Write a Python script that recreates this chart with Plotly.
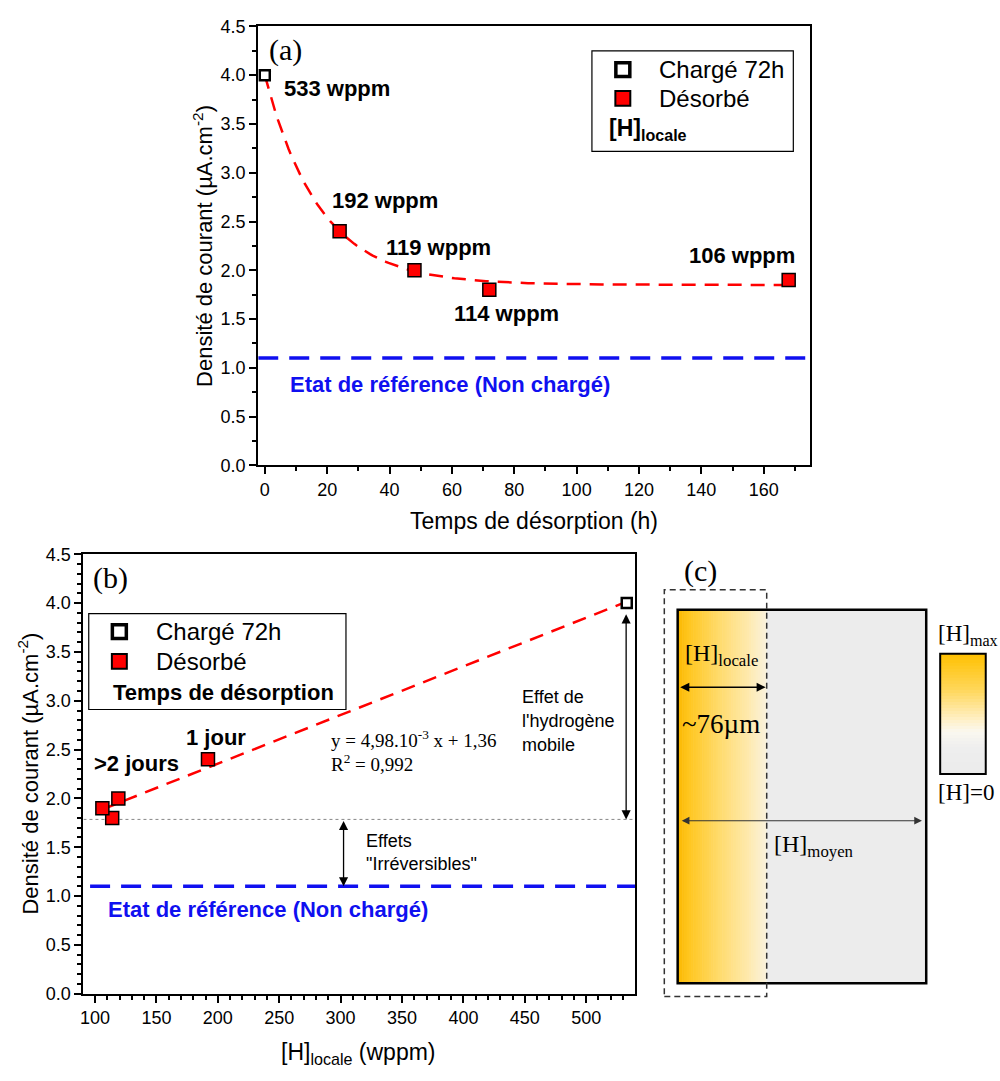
import numpy as np
import plotly.graph_objects as go

# ---------------- data ----------------
# Panel (a): current density vs desorption time
time_charged = [0]
dens_charged = [4.0]
time_desorbed = [24, 48, 72, 168]
dens_desorbed = [2.4, 2.0, 1.8, 1.9]
h_labels_a = ["533 wppm", "192 wppm", "119 wppm", "114 wppm", "106 wppm"]
# exponential fit parameters
fit_a_y0 = 1.85
fit_a_amp = 2.15
fit_a_tau = 17.6
fit_a_xmax = 168

# Panel (b): current density vs local hydrogen
h_charged = [533]
hdens_charged = [4.0]
h_desorbed = [192, 119, 114, 106]
hdens_desorbed = [2.4, 2.0, 1.8, 1.9]
fit_b_slope = 4.98e-3
fit_b_intercept = 1.36
fit_b_xrange = [106, 533]

ref_level = 1.1          # Etat de référence (non chargé)
irrev_level = 1.785      # dotted level

W, H = 1000, 1081
def PX(x): return x / W
def PY(y): return 1 - y / H

FONT = "Arial, Liberation Sans, sans-serif"
SERIF = "Liberation Serif, DejaVu Serif, serif"
RED = "#FF0000"
BLUE = "#1010F0"

fig = go.Figure()

# ---- panel (a) traces ----
xf = np.linspace(0, fit_a_xmax, 200)
yf = fit_a_y0 + fit_a_amp * np.exp(-xf / fit_a_tau)
fig.add_trace(go.Scatter(x=xf, y=yf, mode="lines", xaxis="x", yaxis="y",
                         line=dict(color=RED, width=2.5, dash="14px,9px"), showlegend=False))
fig.add_trace(go.Scatter(x=[-2.1, 174.7], y=[ref_level, ref_level], mode="lines", xaxis="x", yaxis="y",
                         line=dict(color=BLUE, width=3.5, dash="20px,11px"), showlegend=False))
fig.add_trace(go.Scatter(x=time_desorbed, y=dens_desorbed, mode="markers", xaxis="x", yaxis="y",
                         marker=dict(symbol="square", size=13, color=RED, line=dict(color="black", width=1.5)),
                         showlegend=False))
fig.add_trace(go.Scatter(x=time_charged, y=dens_charged, mode="markers", xaxis="x", yaxis="y",
                         marker=dict(symbol="square", size=10, color="white", line=dict(color="black", width=2.5)),
                         showlegend=False))

# ---- panel (b) traces ----
xb = np.array(fit_b_xrange, dtype=float)
fig.add_trace(go.Scatter(x=[90.6, 539.8], y=[irrev_level, irrev_level], mode="lines", xaxis="x2", yaxis="y2",
                         line=dict(color="#888888", width=1, dash="dot"), showlegend=False))
fig.add_trace(go.Scatter(x=xb, y=fit_b_slope * xb + fit_b_intercept, mode="lines", xaxis="x2", yaxis="y2",
                         line=dict(color=RED, width=2.5, dash="14px,9px"), showlegend=False))
fig.add_trace(go.Scatter(x=[96, 539.8], y=[ref_level, ref_level], mode="lines", xaxis="x2", yaxis="y2",
                         line=dict(color=BLUE, width=3.5, dash="20px,11px"), showlegend=False))
fig.add_trace(go.Scatter(x=h_desorbed, y=hdens_desorbed, mode="markers", xaxis="x2", yaxis="y2",
                         marker=dict(symbol="square", size=13, color=RED, line=dict(color="black", width=1.5)),
                         showlegend=False))
fig.add_trace(go.Scatter(x=h_charged, y=hdens_charged, mode="markers", xaxis="x2", yaxis="y2",
                         marker=dict(symbol="square", size=10, color="white", line=dict(color="black", width=2.5)),
                         showlegend=False))

axis_common = dict(showline=True, linewidth=2, linecolor="black", mirror=True, ticks="outside",
                   ticklen=7, tickwidth=1.5, tickcolor="black", showgrid=False, zeroline=False,
                   tickfont=dict(family=FONT, size=18, color="black"))

fig.update_layout(
    width=W, height=H, margin=dict(l=0, r=0, t=0, b=0),
    plot_bgcolor="white", paper_bgcolor="white", showlegend=False,
    xaxis=dict(domain=[PX(256), PX(809)], range=[-2.1, 174.7], anchor="y", dtick=20, tick0=0,
               minor=dict(ticks="outside", ticklen=4, dtick=10, tickcolor="black", tickwidth=1.5), **axis_common),
    yaxis=dict(domain=[PY(464), PY(16.7)], range=[0, 4.5], anchor="x", dtick=0.5, tickformat=".1f",
               minor=dict(ticks="outside", ticklen=4, dtick=0.25, tickcolor="black", tickwidth=1.5), **axis_common),
    xaxis2=dict(domain=[PX(80.7), PX(634)], range=[90.6, 539.8], anchor="y2", dtick=50, tick0=100,
                minor=dict(ticks="outside", ticklen=4, dtick=10, tickcolor="black", tickwidth=1.5), **axis_common),
    yaxis2=dict(domain=[PY(1002.3), PY(554.5)], range=[0, 4.5], anchor="x2", dtick=0.5, tickformat=".1f",
                minor=dict(ticks="outside", ticklen=4, dtick=0.1, tickcolor="black", tickwidth=1.5), **axis_common),
)

ann = []
def txt(text, x, y, size=22, family=FONT, color="black", xanchor="left", yanchor="middle",
        xref="paper", yref="paper", angle=0, bold=False):
    if bold:
        text = "<b>" + text + "</b>"
    ann.append(dict(text=text, x=x, y=y, xref=xref, yref=yref, showarrow=False, xanchor=xanchor,
                    yanchor=yanchor, textangle=angle, font=dict(family=family, size=size, color=color)))

# ---- panel (a) annotations ----
txt("(a)", 6.5, 4.26, size=30, family=SERIF, xanchor="center", xref="x", yref="y")
label_pos_a = [(5.5, 3.86), (20.9, 2.72), (38.2, 2.23), (60.0, 1.56), (135.5, 2.15)]
for lab, (lx, ly) in zip(h_labels_a, label_pos_a):
    txt(lab, lx, ly, size=22, bold=True, xref="x", yref="y")
txt("Etat de référence (Non chargé)", 7.5, 0.83, size=22, bold=True, color=BLUE, xref="x", yref="y")
txt("Densité de courant (µA.cm<sup>-2</sup>)", PX(200), PY(240), size=22, xanchor="center", angle=-90)
txt("Temps de désorption (h)", PX(532.5), PY(521), size=23, xanchor="center")

# legend (a)
shapes = []
shapes.append(dict(type="rect", xref="paper", yref="paper", x0=PX(590.7), x1=PX(792.7), y0=PY(144), y1=PY(41.7),
                   line=dict(color="black", width=1.2)))
def sq(cx, cy, s, fill, lw):
    shapes.append(dict(type="rect", xref="paper", yref="paper", x0=PX(cx - s / 2), x1=PX(cx + s / 2),
                       y0=PY(cy + s / 2), y1=PY(cy - s / 2), fillcolor=fill, line=dict(color="black", width=lw)))
sq(621.7, 60.7, 14, "white", 3.5)
sq(621.7, 90, 15, RED, 2)
txt("Chargé 72h", PX(656), PY(60.7), size=24)
txt("Désorbé", PX(656), PY(90), size=24)
txt("[H]<sub>locale</sub>", PX(606), PY(122), size=23, bold=True)

# ---- panel (b) annotations ----
txt("(b)", 113, 4.26, size=30, family=SERIF, xanchor="center", xref="x2", yref="y2")
txt(">2 jours", 97.4, 2.355, size=22, bold=True, xref="x2", yref="y2")
txt("1 jour", 172.6, 2.62, size=22, bold=True, xref="x2", yref="y2")
txt("y = 4,98.10<sup>-3</sup> x + 1,36", 290.3, 2.61, size=19, family=SERIF, xref="x2", yref="y2")
txt("R<sup>2</sup> = 0,992", 290.3, 2.36, size=19, family=SERIF, xref="x2", yref="y2")
txt("Effet de", 445.8, 3.04, size=18, xref="x2", yref="y2")
txt("l'hydrogène", 445.8, 2.79, size=18, xref="x2", yref="y2")
txt("mobile", 445.8, 2.55, size=18, xref="x2", yref="y2")
txt("Effets", 318.7, 1.564, size=18, xref="x2", yref="y2")
txt("\"Irréversibles\"", 318.7, 1.33, size=18, xref="x2", yref="y2")
txt("Etat de référence (Non chargé)", 108.6, 0.86, size=22, bold=True, color=BLUE, xref="x2", yref="y2")
txt("Densité de courant (µA.cm<sup>-2</sup>)", PX(25), PY(778), size=22, xanchor="center", angle=-90)
txt("[H]<sub>locale</sub> (wppm)", PX(357), PY(1063), size=23, xanchor="center")

# legend (b)
shapes.append(dict(type="rect", xref="paper", yref="paper", x0=PX(86), x1=PX(344), y0=PY(712.7), y1=PY(615),
                   line=dict(color="black", width=1.2)))
sq(116.7, 633.3, 14, "white", 3.5)
sq(116.7, 663.7, 15, RED, 2)
txt("Chargé 72h", PX(151), PY(633.3), size=24)
txt("Désorbé", PX(151), PY(663.7), size=24)
txt("Temps de désorption", PX(108), PY(695), size=22, bold=True)

# double arrows in (b)
def darrow_data(x, y0, y1, xr, yr):
    ann.append(dict(x=x, y=y1, ax=x, ay=y0, xref=xr, yref=yr, axref=xr, ayref=yr, text="",
                    showarrow=True, arrowhead=2, arrowside="end+start", arrowsize=1.4, arrowwidth=1.3,
                    arrowcolor="black", standoff=0, startstandoff=0))
darrow_data(532.5, 3.9, irrev_level, "x2", "y2")
darrow_data(302.4, irrev_level, ref_level, "x2", "y2")

# ---- panel (c) ----
txt("(c)", PX(699.3), PY(571.7), size=30, family=SERIF, xanchor="center")

def lerp_color(stops, t):
    for i in range(len(stops) - 1):
        t0, c0 = stops[i]
        t1, c1 = stops[i + 1]
        if t0 <= t <= t1:
            f = (t - t0) / (t1 - t0) if t1 > t0 else 0
            c = [round(c0[k] + (c1[k] - c0[k]) * f) for k in range(3)]
            return "rgb(%d,%d,%d)" % tuple(c)
    return "rgb(%d,%d,%d)" % stops[-1][1]

# gray background of the sample
shapes.append(dict(type="rect", xref="paper", yref="paper", x0=PX(676.7), x1=PX(926), y0=PY(991.7), y1=PY(611),
                   fillcolor="rgb(236,236,236)", line=dict(width=0)))
h_stops = [(0.0, (250, 184, 0)), (0.12, (255, 198, 30)), (0.45, (255, 218, 105)),
           (0.8, (254, 234, 175)), (1.0, (250, 242, 222))]
N = 40
gx0, gx1 = 676.7, 766
for i in range(N):
    a = gx0 + (gx1 - gx0) * i / N
    b = gx0 + (gx1 - gx0) * (i + 1) / N + 0.6
    shapes.append(dict(type="rect", xref="paper", yref="paper", x0=PX(a), x1=PX(min(b, gx1)),
                       y0=PY(991.7), y1=PY(611), fillcolor=lerp_color(h_stops, (i + 0.5) / N), line=dict(width=0)))
shapes.append(dict(type="rect", xref="paper", yref="paper", x0=PX(676.7), x1=PX(926), y0=PY(991.7), y1=PY(611),
                   line=dict(color="black", width=2.5)))
shapes.append(dict(type="rect", xref="paper", yref="paper", x0=PX(663.3), x1=PX(766), y0=PY(1005), y1=PY(590.7),
                   line=dict(color="#333333", width=1.5, dash="6px,4px")))

# vertical scale bar
v_stops = [(0.0, (255, 192, 0)), (0.3, (255, 215, 90)), (0.55, (255, 240, 200)), (0.65, (250, 248, 240)),
           (0.78, (238, 238, 238)), (1.0, (235, 235, 235))]
vy0, vy1 = 656, 778.3
for i in range(N):
    a = vy0 + (vy1 - vy0) * i / N
    b = vy0 + (vy1 - vy0) * (i + 1) / N + 0.6
    shapes.append(dict(type="rect", xref="paper", yref="paper", x0=PX(940), x1=PX(985.7),
                       y0=PY(min(b, vy1)), y1=PY(a), fillcolor=lerp_color(v_stops, (i + 0.5) / N),
                       line=dict(width=0)))
shapes.append(dict(type="rect", xref="paper", yref="paper", x0=PX(940), x1=PX(985.7), y0=PY(778.3), y1=PY(656),
                   line=dict(color="black", width=2)))

def darrow_px(x0, x1, y, color="black", w=1.3):
    ann.append(dict(x=PX(x1), y=PY(y), xref="paper", yref="paper", ax=-(x1 - x0), ay=0, text="",
                    showarrow=True, arrowhead=2, arrowside="end+start", arrowsize=1.4, arrowwidth=w,
                    arrowcolor=color, standoff=0, startstandoff=0))
darrow_px(678, 765, 690)
darrow_px(680, 921.7, 826, color="#333333", w=1.1)

txt("[H]<sub>locale</sub>", PX(682), PY(657), size=24, family=SERIF)
txt("~76µm", PX(679), PY(727), size=27, family=SERIF)
txt("[H]<sub>moyen</sub>", PX(771), PY(852), size=24, family=SERIF)
txt("[H]<sub>max</sub>", PX(936), PY(637), size=23, family=SERIF)
txt("[H]=0", PX(936), PY(797), size=23, family=SERIF)

fig.update_layout(annotations=ann, shapes=shapes)
fig.write_html("out.html", config={"displayModeBar": False},
               post_script="document.body.style.margin='0';document.body.style.padding='0';"
                           "document.documentElement.style.overflow='hidden';")
